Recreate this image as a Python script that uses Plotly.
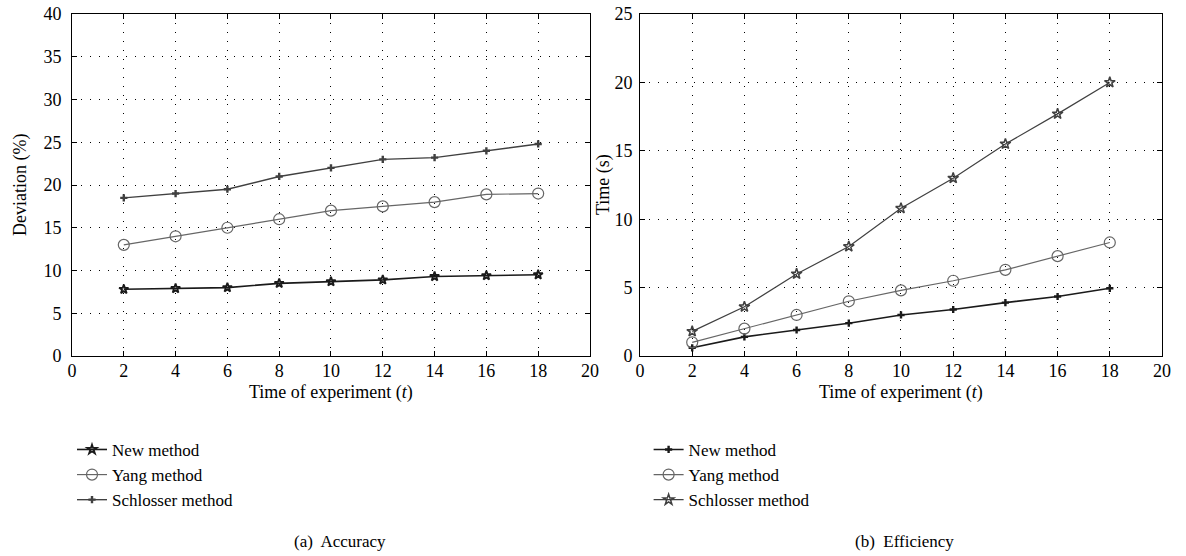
import plotly.graph_objects as go

t = [2, 4, 6, 8, 10, 12, 14, 16, 18]

# (a) Accuracy - Deviation (%)
acc_new = [7.8, 7.9, 8.0, 8.5, 8.7, 8.9, 9.3, 9.4, 9.5]
acc_yang = [13.0, 14.0, 15.0, 16.0, 17.0, 17.5, 18.0, 18.9, 19.0]
acc_schlosser = [18.5, 19.0, 19.5, 21.0, 22.0, 23.0, 23.2, 24.0, 24.8]

# (b) Efficiency - Time (s)
eff_new = [0.6, 1.4, 1.9, 2.4, 3.0, 3.4, 3.9, 4.35, 4.95]
eff_yang = [1.0, 2.0, 3.0, 4.0, 4.8, 5.5, 6.3, 7.3, 8.3]
eff_schlosser = [1.8, 3.6, 6.0, 8.0, 10.8, 13.0, 15.5, 17.7, 20.0]

series_names = ["New method", "Yang method", "Schlosser method"]
subtitles = ["(a)  Accuracy", "(b)  Efficiency"]
x_title = "Time of experiment (<i>t</i>)"
y_titles = ["Deviation (%)", "Time (s)"]

FONT = "Liberation Serif"
FS = 18
fig = go.Figure()

star_s = dict(symbol="star-open", size=7, line=dict(width=1.8))
star_l = dict(symbol="star-open", size=8, line=dict(width=1.5))
circ = dict(symbol="circle-open", size=11, line=dict(width=1.2))
plus = dict(symbol="cross", size=6, line=dict(width=0))

def add(x, y, name, color, lw, marker, xa, ya, legend):
    m = dict(marker)
    m["color"] = color
    if "line" in m:
        m["line"] = dict(m["line"], color=color)
    fig.add_trace(go.Scatter(x=x, y=y, name=name, mode="lines+markers",
                             line=dict(color=color, width=lw), marker=m,
                             xaxis=xa, yaxis=ya, legend=legend))

add(t, acc_new, series_names[0], "#1a1a1a", 1.6, star_s, "x", "y", "legend")
add(t, acc_yang, series_names[1], "#666666", 1.2, circ, "x", "y", "legend")
add(t, acc_schlosser, series_names[2], "#404040", 1.4, plus, "x", "y", "legend")

add(t, eff_new, series_names[0], "#1a1a1a", 1.6, plus, "x2", "y2", "legend2")
add(t, eff_yang, series_names[1], "#666666", 1.2, circ, "x2", "y2", "legend2")
add(t, eff_schlosser, series_names[2], "#404040", 1.2, star_l, "x2", "y2", "legend2")

axis_common = dict(showline=True, linecolor="black", linewidth=1, mirror="ticks",
                   ticks="inside", ticklen=5, tickcolor="black", automargin=False,
                   showgrid=True, gridcolor="black", gridwidth=1, griddash="1px,8px",
                   zeroline=False, tickfont=dict(family=FONT, size=FS, color="black"))

def ann(text, x, y, angle=0, size=FS):
    return dict(text=text, x=x, y=y, xref="paper", yref="paper", showarrow=False,
                xanchor="center", yanchor="middle", textangle=angle,
                font=dict(family=FONT, size=size, color="black"))

fig.update_layout(
    width=1186, height=556,
    margin=dict(l=72, r=24, t=14, b=200),
    paper_bgcolor="white", plot_bgcolor="white",
    font=dict(family=FONT, size=FS, color="black"),
    xaxis=dict(axis_common, domain=[0, 0.4752], range=[0, 20], dtick=2, ticklabelstandoff=-2),
    yaxis=dict(axis_common, range=[0, 40], dtick=5, ticklabelstandoff=6),
    xaxis2=dict(axis_common, domain=[0.5211, 1], range=[0, 20], dtick=2, anchor="y2",
                ticklabelstandoff=-2),
    yaxis2=dict(axis_common, range=[0, 25], dtick=5, anchor="x2", ticklabelstandoff=3),
    legend=dict(x=0.0, y=-0.222, xanchor="left", yanchor="top", bgcolor="rgba(0,0,0,0)",
                font=dict(family=FONT, size=17), tracegroupgap=0, itemwidth=30),
    legend2=dict(x=0.529, y=-0.222, xanchor="left", yanchor="top", bgcolor="rgba(0,0,0,0)",
                 font=dict(family=FONT, size=17), tracegroupgap=0, itemwidth=30),
    annotations=[
        ann(x_title, 0.2376, -0.108),
        ann(x_title, 0.7605, -0.108),
        ann(y_titles[0], -0.0477, 0.5, -90),
        ann(y_titles[1], 0.4872, 0.5, -90),
        ann(subtitles[0], 0.246, -0.541, size=17),
        ann(subtitles[1], 0.764, -0.541, size=17),
    ],
)

fig.write_html("out.html", config={"displayModeBar": False},
               post_script="document.body.style.margin='0';")
